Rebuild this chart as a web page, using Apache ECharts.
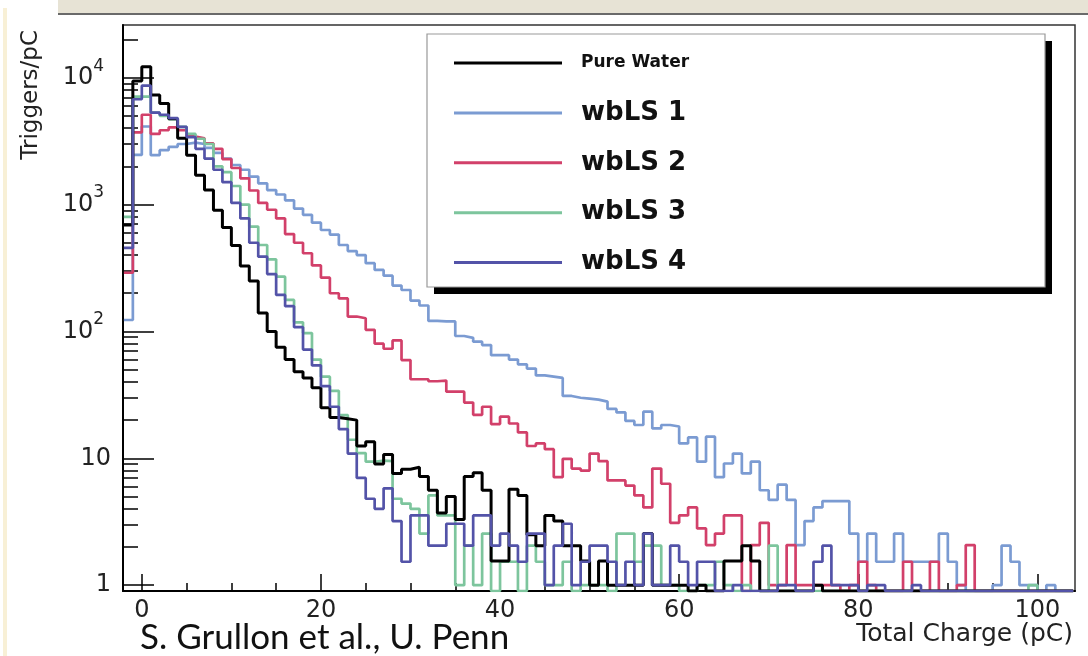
<!DOCTYPE html>
<html>
<head>
<meta charset="utf-8">
<script src="https://cdn.jsdelivr.net/npm/echarts@6/dist/echarts.min.js"></script>
<style>
html,body{margin:0;padding:0;background:#ffffff;}
#chart{width:1088px;height:656px;}
</style>
</head>
<body>
<div id="chart"></div>
<script>
// ---- Histogram binning (pC) ----
const binStart = -2;   // lower edge of first bin
const binWidth = 1;    // bin width in pC

// ---- Series values (Triggers/pC), one per bin, from bin [-2,-1) to [103,104) ----
const pureWater = [
  690, 9400, 12200, 7300, 6250, 4750, 3330, 2450, 1700, 1300,
  900, 660, 475, 328, 250, 140, 100, 75, 60, 48,
  43, 36, 25, 21, 20.5, 20, 12.5, 13.5, 9, 10.7,
  7.6, 8.2, 8.5, 7.2, 5.6, 3.7, 5.0, 3.3, 7.2, 7.7,
  5.6, 1.55, 1.55, 5.7, 5.1, 2.5, 2.05, 3.55, 3.2, 2.05,
  2.05, 1.55, 1.0, 1.55, 1.0, 1.0, 1.0, 1.0, 2.55, 1.0,
  1.0, 1.0, 1.0, 0.9, 1.0, 0.9, 0.9, 1.55, 1.55, 2.05,
  1.55, 0.9, 0.9, 0.9, 0.9, 0.9, 0.9, 1.0, 0.9, 0.9,
  0.9, 0.9, 0.9, 0.9, 0.9, 0.9, 0.9, 0.9, 0.9, 0.9,
  0.9, 0.9, 0.9, 0.9, 0.9, 0.9, 0.9, 0.9, 0.9, 0.9,
  0.9, 0.9, 0.9, 0.9, 0.9, 0.9
];
const wbLS1 = [
  123, 2460, 4120, 2450, 2680, 2850, 3000, 3080, 3000, 2800,
  2550, 2300, 2050, 1880, 1660, 1470, 1300, 1200, 1080, 930,
  830, 720, 630, 580, 480, 430, 400, 345, 305, 275,
  230, 212, 175, 160, 121, 120, 120, 92, 89, 83,
  78, 65, 65, 60, 55, 51, 45, 44, 43, 31,
  30, 29.5, 29, 28, 24.5, 23, 19.7, 18.3, 23.3, 17.2,
  18.3, 17.8, 13.1, 14.6, 9.4, 14.8, 7.1, 9.1, 10.9, 7.6,
  9.4, 5.6, 4.7, 6.2, 4.7, 2.07, 3.2, 4.1, 4.6, 4.6,
  4.6, 2.55, 1.53, 2.55, 1.53, 1.53, 2.55, 1.53, 1.53, 1.53,
  1.53, 2.55, 1.53, 1.0, 0.9, 0.9, 0.9, 1.0, 2.05, 1.53,
  1.0, 1.0, 0.9, 1.0, 0.9, 0.9
];
const wbLS2 = [
  290, 3700, 5100, 3600, 3850, 4050, 3850, 3440, 3330, 3030,
  2750, 2280, 1940, 1610, 1290, 1030, 910, 777, 585, 500,
  413, 331, 265, 200, 182, 131, 127, 103, 80, 73,
  85, 59.5, 42, 42, 40.5, 41, 33.5, 33.5, 27.5, 22,
  25.5, 18.6, 21.3, 18.8, 16, 12.5, 13.1, 11.8, 7.1, 9.9,
  8.3, 8, 10.9, 9.5, 6.7, 6.7, 6.1, 5.1, 4.1, 8.3,
  6.3, 3.1, 3.55, 4.1, 2.8, 2.07, 2.55, 3.55, 3.55, 0.9,
  2.07, 3.1, 1.0, 1.0, 2.07, 1.0, 1.0, 1.0, 1.0, 1.0,
  0.9, 1.0, 1.53, 1.0, 0.9, 0.9, 0.9, 1.53, 0.9, 0.9,
  1.53, 0.9, 0.9, 1.0, 2.07, 0.9, 0.9, 0.9, 0.9, 0.9,
  0.9, 0.9, 0.9, 0.9, 0.9, 0.9
];
const wbLS3 = [
  800, 7100, 7100, 5300, 5000, 4700, 4100, 3600, 3300, 3000,
  2000, 1800, 1400, 1000, 670, 480, 370, 270, 177, 118,
  97, 60, 44, 34, 21.9, 14, 11, 9.4, 9.6, 9.5,
  4.8, 4.4, 4.0, 2.55, 5.1, 3.55, 3.55, 1.0, 2.05, 1.0,
  2.55, 0.9, 1.53, 1.53, 0.9, 2.05, 1.53, 1.0, 1.0, 1.53,
  0.9, 1.0, 1.0, 1.0, 0.9, 2.55, 2.55, 1.53, 2.05, 2.05,
  1.0, 1.0, 0.9, 0.9, 1.0, 1.0, 1.53, 1.0, 0.9, 1.0,
  0.9, 0.9, 2.05, 0.9, 0.9, 0.9, 0.9, 0.9, 0.9, 0.9,
  0.9, 0.9, 0.9, 0.9, 0.9, 0.9, 0.9, 0.9, 0.9, 0.9,
  0.9, 0.9, 0.9, 0.9, 0.9, 0.9, 0.9, 0.9, 0.9, 0.9,
  0.9, 1.0, 0.9, 0.9, 0.9, 0.9
];
const wbLS4 = [
  455, 6760, 8650, 5300, 5100, 4800, 4100, 3400, 2750, 2300,
  1880, 1500, 1030, 777, 500, 388, 283, 194, 158, 108,
  72, 54, 37, 25.5, 17, 10.9, 7, 4.8, 4.0, 5.8,
  3.2, 1.53, 3.55, 3.55, 2.05, 2.05, 3.05, 3.05, 2.05, 3.55,
  3.55, 2.05, 2.55, 2.05, 1.53, 2.55, 2.55, 1.0, 2.05, 3.05,
  1.0, 1.53, 2.05, 2.05, 1.53, 1.0, 1.53, 1.0, 2.55, 1.0,
  1.0, 2.05, 1.53, 1.0, 1.53, 1.53, 0.9, 0.9, 1.0, 0.9,
  0.9, 0.9, 0.9, 1.0, 1.0, 0.9, 0.9, 1.53, 2.05, 1.0,
  1.0, 1.0, 0.9, 1.0, 1.0, 0.9, 0.9, 0.9, 1.0, 0.9,
  0.9, 0.9, 0.9, 0.9, 0.9, 0.9, 0.9, 0.9, 0.9, 0.9,
  0.9, 0.9, 0.9, 0.9, 0.9, 0.9
];

// ---- Names and tick values ----
const seriesNames = ['Pure Water', 'wbLS 1', 'wbLS 2', 'wbLS 3', 'wbLS 4'];
const xTickLabels = [0, 20, 40, 60, 80, 100];
const xMinorTicks = [5, 10, 15, 25, 30, 35, 45, 50, 55, 65, 70, 75, 85, 90, 95];
const yTickLabels = [1, 10, 100, 1000, 10000];
const yMinorTicks = [2, 3, 4, 5, 6, 7, 8, 9,
  20, 30, 40, 50, 60, 70, 80, 90,
  200, 300, 400, 500, 600, 700, 800, 900,
  2000, 3000, 4000, 5000, 6000, 7000, 8000, 9000, 20000];
const xAxisTitle = 'Total Charge (pC)';
const yAxisTitle = 'Triggers/pC';
const creditText = 'S. Grullon et al., U. Penn';

// histogram bins -> step points (left edges, plus closing right edge)
function toSteps(vals) {
  const pts = vals.map((v, i) => [binStart + i * binWidth, v]);
  pts.push([binStart + vals.length * binWidth, vals[vals.length - 1]]);
  return pts;
}

const colors = {
  'Pure Water': '#000000',
  'wbLS 1': '#7b9bd2',
  'wbLS 2': '#d2406a',
  'wbLS 3': '#7dc59d',
  'wbLS 4': '#5353a8'
};
const valuesByName = {
  'Pure Water': pureWater, 'wbLS 1': wbLS1, 'wbLS 2': wbLS2, 'wbLS 3': wbLS3, 'wbLS 4': wbLS4
};
const drawOrder = ['wbLS 1', 'wbLS 2', 'wbLS 3', 'Pure Water', 'wbLS 4'];

const gridRect = { left: 123, top: 25, width: 952, height: 566 };
const FONT = 'DejaVu Sans';

const chart = echarts.init(document.getElementById('chart'), null, { renderer: 'canvas' });

const option = {
  animation: false,
  backgroundColor: '#ffffff',
  grid: [
    Object.assign({ show: true, borderColor: '#333', borderWidth: 1.5, backgroundColor: 'rgba(0,0,0,0)' }, gridRect),
    Object.assign({ show: false }, gridRect)
  ],
  xAxis: [
    {
      type: 'value', gridIndex: 0, min: -2.1, max: 104.2,
      axisLine: { show: true, onZero: false, lineStyle: { color: '#000', width: 2 } },
      axisTick: { show: true, inside: true, length: 17, customValues: xTickLabels, lineStyle: { color: '#000', width: 1.5 } },
      axisLabel: { customValues: xTickLabels, fontFamily: FONT, fontSize: 24, color: '#222', margin: 8 },
      splitLine: { show: false }
    },
    {
      type: 'value', gridIndex: 1, min: -2.1, max: 104.2,
      axisLine: { show: false, onZero: false },
      axisTick: { show: true, inside: true, length: 8, customValues: xMinorTicks, lineStyle: { color: '#000', width: 1.5 } },
      axisLabel: { show: false },
      splitLine: { show: false }
    }
  ],
  yAxis: [
    {
      type: 'log', logBase: 10, gridIndex: 0, min: 0.9, max: 26000,
      axisLine: { show: true, onZero: false, lineStyle: { color: '#000', width: 2 } },
      axisTick: { show: true, inside: true, length: 31, customValues: yTickLabels, lineStyle: { color: '#000', width: 1.5 } },
      axisLabel: {
        customValues: yTickLabels, margin: 12,
        formatter: function (v) {
          const e = Math.round(Math.log10(v));
          if (e === 0) return '{b|1}';
          if (e === 1) return '{b|10}';
          return '{b|10}{s|' + e + '}';
        },
        rich: {
          b: { fontFamily: FONT, fontSize: 24, color: '#222', lineHeight: 40 },
          s: { fontFamily: FONT, fontSize: 17, color: '#222', lineHeight: 18, verticalAlign: 'top', padding: [0, 7, 0, 0] }
        }
      },
      splitLine: { show: false }
    },
    {
      type: 'log', logBase: 10, gridIndex: 1, min: 0.9, max: 26000,
      axisLine: { show: false, onZero: false },
      axisTick: { show: true, inside: true, length: 15, customValues: yMinorTicks, lineStyle: { color: '#000', width: 1.5 } },
      axisLabel: { show: false },
      splitLine: { show: false }
    }
  ],
  legend: {
    orient: 'vertical', left: 449, top: 45, z: 6,
    itemWidth: 108, itemHeight: 3, itemGap: 23.9, icon: 'rect',
    selectedMode: false,
    data: seriesNames.map(n => n === 'Pure Water'
      ? { name: n, textStyle: { fontSize: 17, lineHeight: 26 } }
      : { name: n }),
    textStyle: { fontFamily: FONT, fontWeight: 'bold', fontSize: 26, lineHeight: 26, color: '#111', padding: [0, 0, 0, 14] }
  },
  graphic: [
    { type: 'rect', z: 0, shape: { x: 58, y: 0, width: 1030, height: 13 }, style: { fill: '#e7e3d5' } },
    { type: 'rect', z: 0, shape: { x: 58, y: 13, width: 1030, height: 2 }, style: { fill: '#6a6a6a' } },
    { type: 'rect', z: 0, shape: { x: 3, y: 8, width: 4, height: 648 }, style: { fill: '#f8f0d6' } },
    // legend frame: hard drop shadow, then white box with thin grey border
    { type: 'rect', z: 5, shape: { x: 434, y: 41, width: 618, height: 253 }, style: { fill: '#000000' } },
    { type: 'rect', z: 5, shape: { x: 427, y: 34, width: 618, height: 253 }, style: { fill: '#ffffff', stroke: '#999999', lineWidth: 1.2 } },
    { type: 'text', z: 5, x: 31, y: 30, rotation: Math.PI / 2,
      style: { text: yAxisTitle, fontFamily: FONT, fontSize: 23, fill: '#222', textAlign: 'right', textVerticalAlign: 'middle' } },
    { type: 'text', z: 5, x: 1073, y: 634,
      style: { text: xAxisTitle, fontFamily: FONT, fontSize: 25, fill: '#222', textAlign: 'right', textVerticalAlign: 'middle' } },
    { type: 'text', z: 5, x: 140, y: 638,
      style: { text: creditText, fontFamily: 'Lato', fontSize: 35, fill: '#111', textAlign: 'left', textVerticalAlign: 'middle' } }
  ],
  series: drawOrder.map(n => ({
    name: n, type: 'line', step: 'end', xAxisIndex: 0, yAxisIndex: 0,
    data: toSteps(valuesByName[n]),
    symbol: 'none', showSymbol: false, clip: true,
    lineStyle: { color: colors[n], width: n === 'Pure Water' ? 3 : 2.7 },
    itemStyle: { color: colors[n] },
    emphasis: { disabled: true }
  }))
};
chart.setOption(option);
</script>
</body>
</html>
